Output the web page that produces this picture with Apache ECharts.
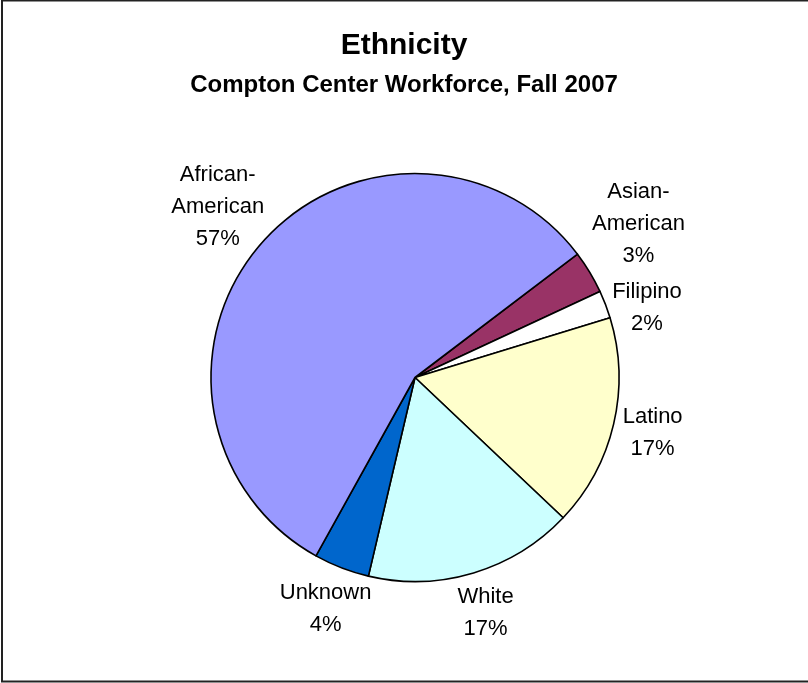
<!DOCTYPE html>
<html>
<head>
<meta charset="utf-8">
<script src="https://cdn.jsdelivr.net/npm/echarts@6/dist/echarts.min.js"></script>
<style>
html,body{margin:0;padding:0;background:#fff;}
#chart{width:808px;height:683px;}
</style>
</head>
<body>
<div id="chart"></div>
<script>
// Data (clockwise order, starting at the Asian-American slice)
const categories = ['Asian-\nAmerican', 'Filipino', 'Latino', 'White', 'Unknown', 'African-\nAmerican'];
const values = [3.4, 2.2, 16.8, 16.6, 4.4, 56.6];
const colors = ['#993366', '#FFFFFF', '#FFFFCC', '#CCFFFF', '#0066CC', '#9999FF'];
const titleText = 'Ethnicity';
const subtitleText = 'Compton Center Workforce, Fall 2007';

const CX = 415, CY = 377.5, R = 204;
const START = 37.2; // echarts degrees (counter-clockwise from 3 o'clock)
const FONT = '"Liberation Sans", Arial, sans-serif';
const LABEL_SIZE = 22, LINE_H = 32, GAP = 10;

const total = values.reduce((a, b) => a + b, 0);
const labelText = i => categories[i] + '\n' + Math.round(values[i] / total * 100) + '%';

// Pre-compute label centres: outside each slice's bisector, then separate overlapping neighbours.
const ctx = document.createElement('canvas').getContext('2d');
ctx.font = LABEL_SIZE + 'px ' + FONT;
const boxes = [];
let acc = 0;
values.forEach((v, i) => {
  const a = (START - (acc + v / 2) / total * 360) * Math.PI / 180;
  acc += v;
  const lines = labelText(i).split('\n');
  const hw = Math.max(...lines.map(l => ctx.measureText(l).width)) / 2;
  const hh = lines.length * LINE_H / 2;
  const ux = Math.cos(a), uy = -Math.sin(a);
  const ext = Math.sqrt((hw * ux) ** 2 + (hh * uy) ** 2);
  const d = R + GAP + ext;
  boxes.push({x: CX + ux * d, y: CY + uy * d, hw, hh});
});
for (let i = 0; i < boxes.length; i++) {
  const p = boxes[i], q = boxes[(i + 1) % boxes.length];
  const ox = Math.min(p.x + p.hw, q.x + q.hw) - Math.max(p.x - p.hw, q.x - q.hw);
  const oy = Math.min(p.y + p.hh, q.y + q.hh) - Math.max(p.y - p.hh, q.y - q.hh);
  if (ox > 0 && oy > 0) {
    const s = (oy + 4) / 2, dir = p.y < q.y ? 1 : -1;
    p.y -= dir * s; q.y += dir * s;
  }
}

const chart = echarts.init(document.getElementById('chart'), null, {renderer: 'canvas'});
chart.setOption({
  backgroundColor: '#fff',
  animation: false,
  title: [
    {text: titleText, left: 'center', top: 26, padding: [5, 0, 5, 8],
     textStyle: {fontFamily: FONT, fontSize: 30, fontWeight: 'bold', color: '#000'}},
    {text: subtitleText, left: 'center', top: 68, padding: [5, 0, 5, 8],
     textStyle: {fontFamily: FONT, fontSize: 24, fontWeight: 'bold', color: '#000'}}
  ],
  graphic: [{
    type: 'rect', silent: true,
    shape: {x: 2, y: 0.5, width: 820, height: 681},
    style: {fill: 'none', stroke: '#222', lineWidth: 2}
  }],
  series: [{
    type: 'pie',
    center: [CX, CY],
    radius: R,
    startAngle: START,
    clockwise: true,
    silent: true,
    data: categories.map((c, i) => ({name: c, value: values[i], itemStyle: {color: colors[i]}})),
    itemStyle: {borderColor: '#000', borderWidth: 1.6},
    label: {
      show: true,
      position: 'outside',
      fontFamily: FONT,
      fontSize: LABEL_SIZE,
      lineHeight: LINE_H,
      color: '#000',
      align: 'center',
      formatter: p => labelText(p.dataIndex)
    },
    labelLine: {show: false},
    labelLayout: function (params) {
      const b = boxes[params.dataIndex];
      return {x: b.x, y: b.y, align: 'center', verticalAlign: 'middle'};
    }
  }]
});
</script>
</body>
</html>
